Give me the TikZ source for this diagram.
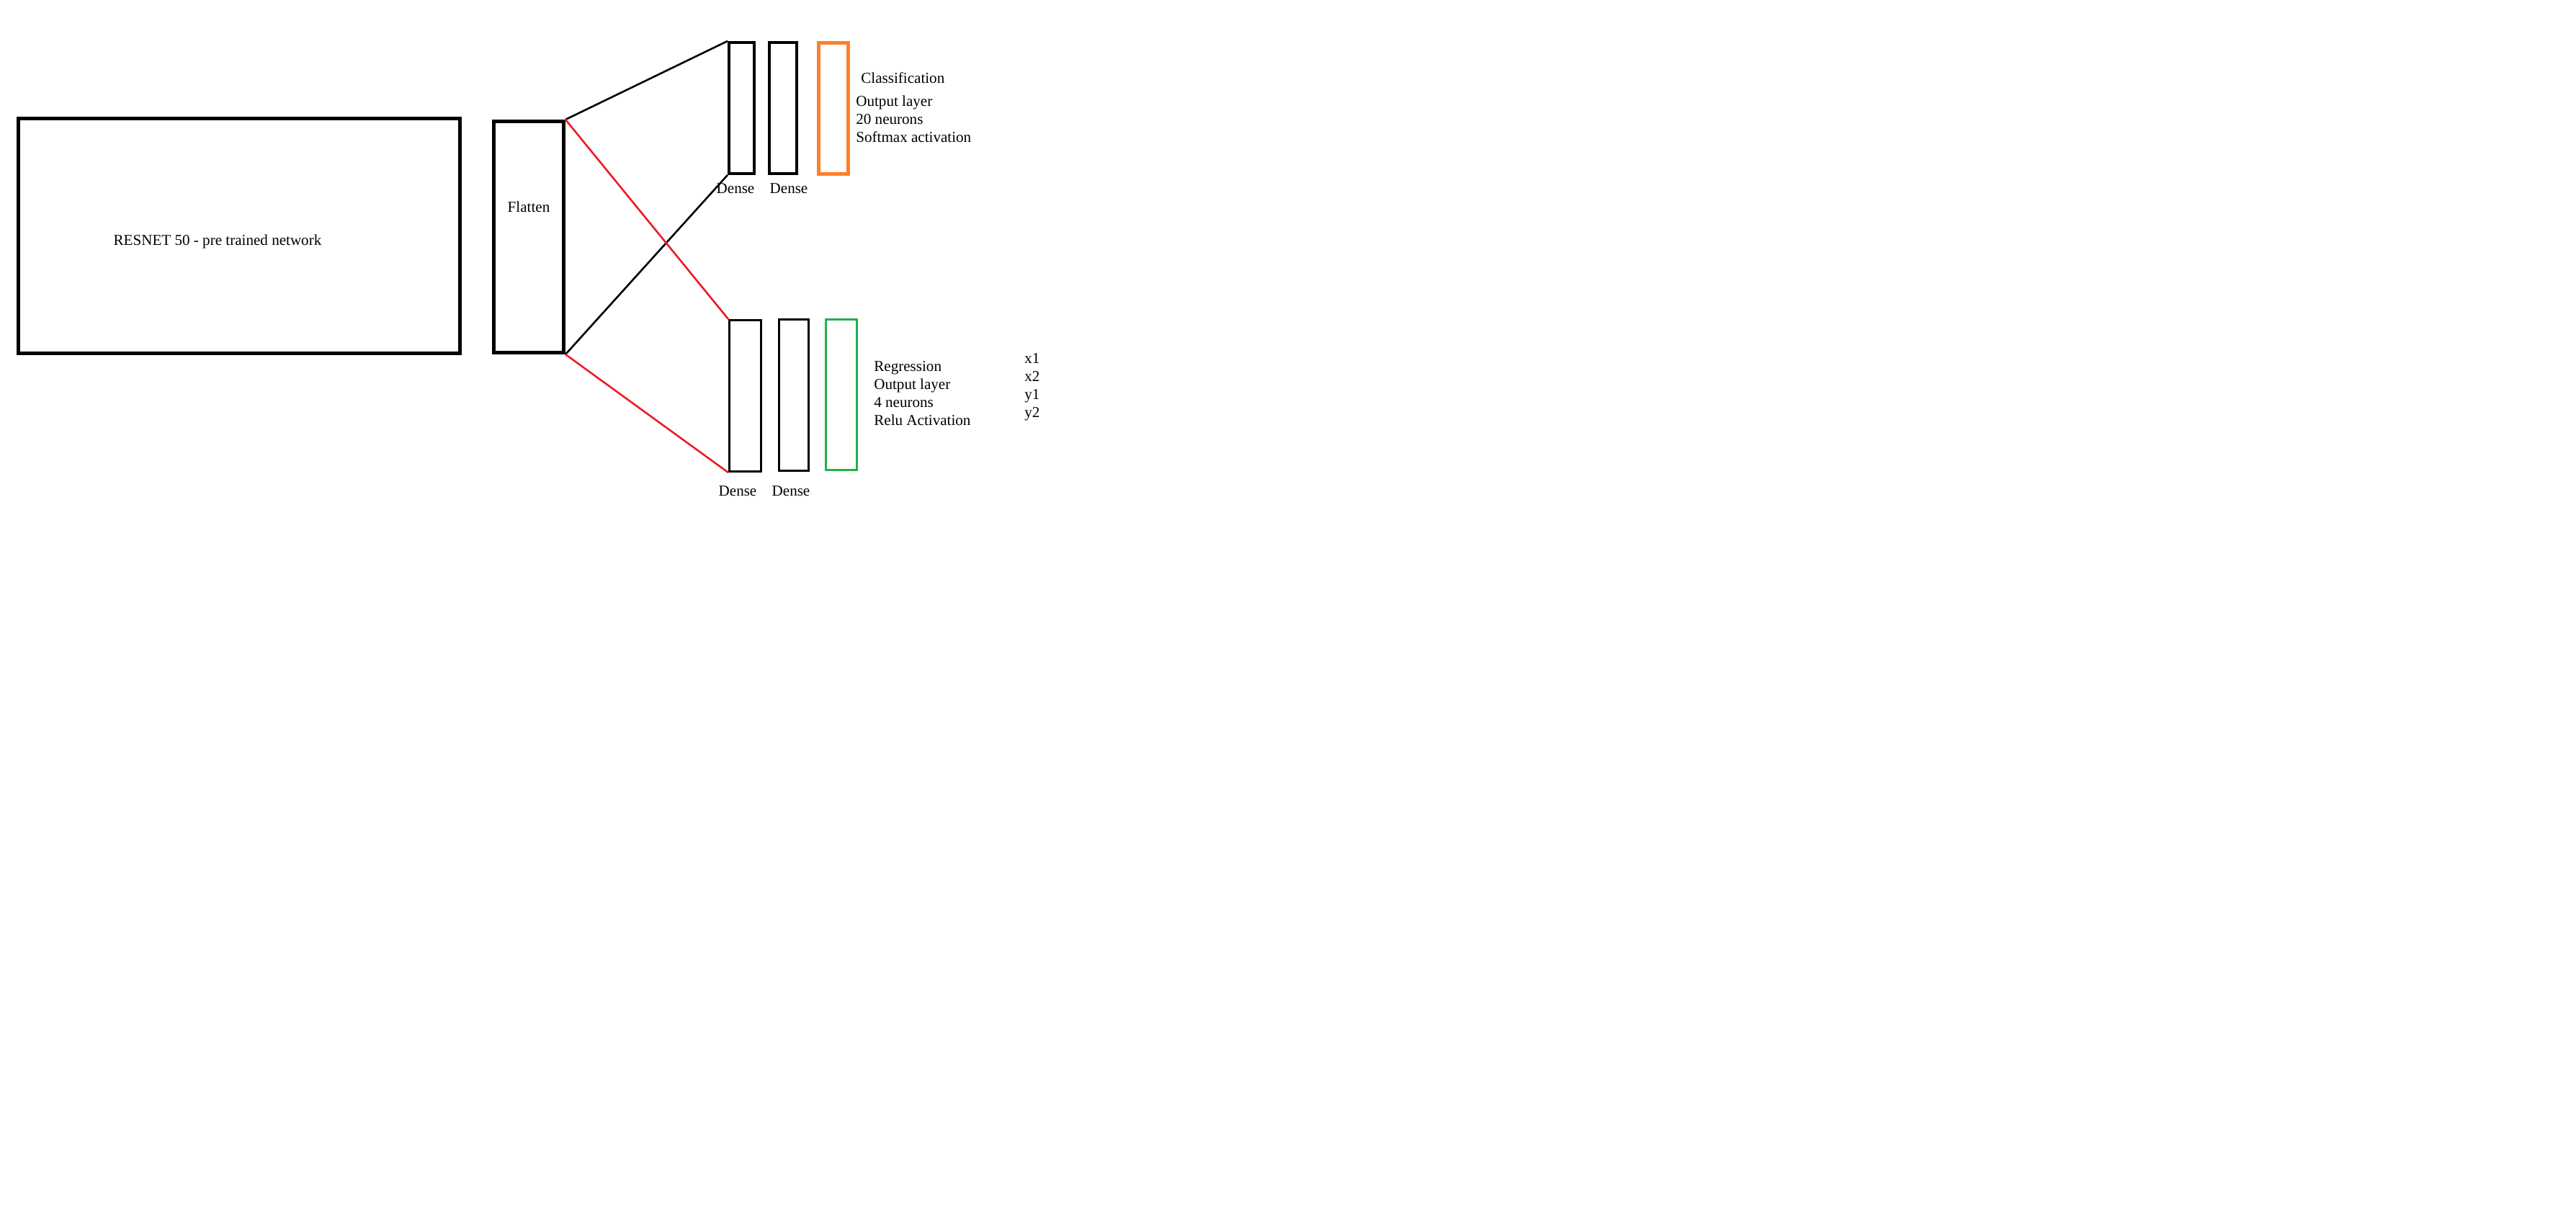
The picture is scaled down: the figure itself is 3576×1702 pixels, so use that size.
\documentclass[tikz,border=0pt]{standalone}
\usepackage{fontspec}
\setmainfont{Liberation Serif}
\usepackage{tikz}
\usetikzlibrary{positioning}
\definecolor{pntred}{RGB}{237,28,36}
\definecolor{pntorange}{RGB}{255,127,39}
\definecolor{pntgreen}{RGB}{34,177,76}
\newlength{\px}
\setlength{\px}{0.02cm}
\tikzset{
  netbox/.style={rectangle, draw=black, inner sep=0pt, line width=5\px},
  topdense/.style={rectangle, draw=black, inner sep=0pt, line width=4\px,
    minimum height=182\px},
  lowdense/.style={rectangle, draw=black, inner sep=0pt, line width=3\px,
    minimum height=210\px},
  clsout/.style={rectangle, draw=pntorange, inner sep=0pt, line width=5\px,
    minimum width=41\px, minimum height=182\px},
  regout/.style={rectangle, draw=pntgreen, inner sep=0pt, line width=3\px,
    minimum width=43\px, minimum height=209\px},
  lbl/.style={font=\fontsize{12}{14.2}\selectfont, inner sep=0pt, align=left},
  link/.style={line width=2.6\px, color=black},
  redlink/.style={line width=2.6\px, color=pntred}
}

\begin{document}
\begin{tikzpicture}[x=0.02cm, y=-0.02cm]
  \useasboundingbox (0,0) rectangle (3576,1702);

  % Backbone and flatten
  \node[netbox, minimum width=613\px, minimum height=326\px] (resnet) at (332,327.5) {};
  \node[lbl] (resnettxt) at (302,335) {RESNET 50 - pre trained network};
  \node[netbox, minimum width=97\px, minimum height=321\px] (flat) at (734,329) {};
  \node[lbl] (flattxt) at (734,287) {Flatten};

  % Classification head
  \node[topdense, minimum width=35\px] (cd1) at (1029.5,150) {};
  \node[topdense, minimum width=38\px] (cd2) at (1087,150) {};
  \node[clsout] (cout) at (1157,151) {};
  \node[lbl] (cd1txt) at (1021,262) {Dense};
  \node[lbl] (cd2txt) at (1095,262) {Dense};
  \node[lbl, anchor=west] (clstitle) at (1195,108) {Classification};
  \node[lbl, anchor=west] (clsinfo) at (1188,165) {Output layer\\20 neurons\\Softmax activation};

  % Regression head
  \node[lowdense, minimum width=44\px] (rd1) at (1034.5,549.5) {};
  \node[lowdense, minimum width=41\px] (rd2) at (1102,548.5) {};
  \node[regout] (rout) at (1168,548) {};
  \node[lbl] (rd1txt) at (1024,682) {Dense};
  \node[lbl] (rd2txt) at (1098,682) {Dense};
  \node[lbl, anchor=west] (reginfo) at (1213,546.5) {Regression\\Output layer\\4 neurons\\Relu Activation};
  \node[lbl, anchor=west] (regvals) at (1422,537.5) {x1\\x2\\y1\\y2};

  % Connections
  \draw[link] (flat.north east) -- (cd1.north west);
  \draw[link] (flat.south east) -- (cd1.south west);
  \draw[redlink] (flat.north east) -- (rd1.north west);
  \draw[redlink] (flat.south east) -- (rd1.south west);

\end{tikzpicture}
\end{document}
